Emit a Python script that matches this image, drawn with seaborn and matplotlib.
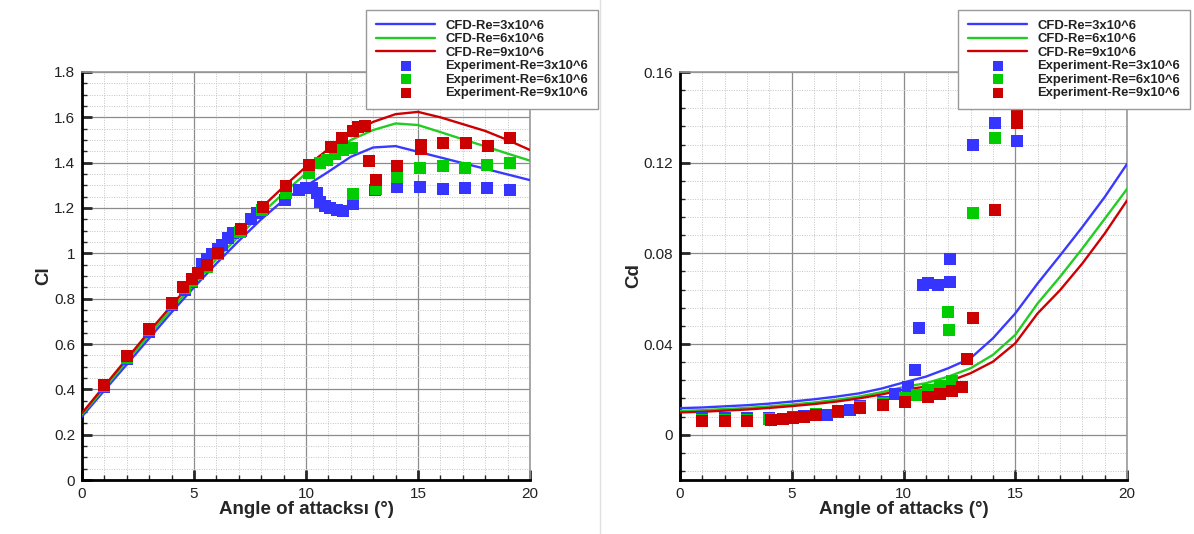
import matplotlib
matplotlib.use('Agg')
import matplotlib.pyplot as plt
import seaborn as sns
import pandas as pd
from matplotlib.ticker import MultipleLocator, FuncFormatter

# ---------------- data ----------------
aoa_cfd = list(range(21))
cl_cfd_re3 = [0.28, 0.395, 0.51, 0.625, 0.74, 0.85, 0.955, 1.055, 1.15, 1.235, 1.297,
              1.36, 1.426, 1.467, 1.473, 1.448, 1.423, 1.398, 1.373, 1.348, 1.323]
cl_cfd_re6 = [0.29, 0.405, 0.525, 0.64, 0.755, 0.865, 0.975, 1.075, 1.175, 1.265, 1.353,
              1.43, 1.5, 1.544, 1.573, 1.566, 1.535, 1.503, 1.472, 1.44, 1.409]
cl_cfd_re9 = [0.295, 0.415, 0.535, 0.655, 0.77, 0.885, 0.995, 1.10, 1.20, 1.294, 1.382,
              1.46, 1.53, 1.58, 1.614, 1.624, 1.60, 1.57, 1.54, 1.50, 1.456]

aoa_cl_exp_re3 = [1, 2, 3, 4, 4.6, 4.9, 5.2, 5.35, 5.6, 5.8, 6.05, 6.25, 6.5, 6.75, 7.1, 7.55,
                  7.8, 8.1, 9.05, 9.7, 10.0, 10.25, 10.48, 10.63, 10.85, 11.07, 11.37, 11.63,
                  12.1, 13.1, 14.05, 15.1, 16.1, 17.1, 18.1, 19.1]
cl_exp_re3 = [0.41, 0.535, 0.655, 0.77, 0.84, 0.875, 0.91, 0.955, 0.975, 0.995, 1.02, 1.037,
              1.066, 1.09, 1.1, 1.15, 1.176, 1.195, 1.235, 1.279, 1.29, 1.29, 1.265, 1.228,
              1.209, 1.198, 1.19, 1.188, 1.217, 1.279, 1.294, 1.294, 1.282, 1.29, 1.287, 1.279]
aoa_cl_exp_re6 = [1, 2, 3, 4, 4.6, 4.9, 5.2, 5.6, 6.05, 7.05, 8.05, 9.1, 10.13, 10.63, 10.92,
                  11.29, 11.67, 12.04, 12.08, 13.13, 14.05, 15.1, 16.1, 17.1, 18.1, 19.1]
cl_exp_re6 = [0.415, 0.54, 0.66, 0.775, 0.845, 0.878, 0.908, 0.94, 0.995, 1.095, 1.19, 1.265,
              1.356, 1.397, 1.411, 1.437, 1.456, 1.463, 1.26, 1.282, 1.338, 1.375, 1.385,
              1.378, 1.39, 1.4]
aoa_cl_exp_re9 = [1, 2, 3, 4, 4.52, 4.9, 5.19, 5.6, 6.09, 7.08, 8.1, 9.1, 10.13, 11.12, 11.59,
                  12.11, 12.34, 12.63, 12.81, 13.13, 14.05, 15.12, 15.12, 16.13, 17.13, 18.14,
                  19.1]
cl_exp_re9 = [0.42, 0.545, 0.665, 0.78, 0.853, 0.885, 0.915, 0.948, 1.003, 1.106, 1.203, 1.297,
              1.39, 1.47, 1.507, 1.541, 1.556, 1.56, 1.409, 1.323, 1.385, 1.48, 1.462, 1.488,
              1.488, 1.473, 1.507]

cd_cfd_re3 = [0.0117, 0.012, 0.0125, 0.013, 0.0137, 0.0146, 0.0156, 0.0168, 0.0182, 0.0203,
              0.023, 0.0256, 0.0293, 0.0337, 0.0425, 0.0535, 0.0667, 0.079, 0.0916, 0.1048,
              0.1194]
cd_cfd_re6 = [0.0105, 0.0108, 0.0113, 0.0118, 0.0125, 0.0133, 0.0142, 0.0154, 0.0168, 0.0187,
              0.021, 0.0227, 0.0256, 0.0293, 0.0352, 0.044, 0.0579, 0.0696, 0.0821, 0.0952,
              0.1084]
cd_cfd_re9 = [0.0098, 0.0101, 0.0106, 0.0111, 0.0118, 0.0126, 0.0135, 0.0146, 0.016, 0.0177,
              0.0198, 0.0212, 0.0234, 0.0271, 0.0322, 0.0403, 0.0535, 0.0637, 0.0755, 0.0887,
              0.1033]

aoa_cd_exp_re3 = [1, 2, 3, 4, 5.07, 5.56, 6.08, 6.56, 7.08, 7.6, 8.05, 9.1, 9.62, 10.2, 10.5,
                  10.71, 10.86, 11.1, 11.56, 12.08, 12.08, 13.1, 14.09, 15.1]
cd_exp_re3 = [0.0072, 0.0072, 0.0072, 0.0075, 0.0078, 0.0082, 0.0088, 0.0088, 0.0100, 0.011,
              0.0125, 0.0145, 0.018, 0.0212, 0.0286, 0.0469, 0.0659, 0.0667, 0.0659, 0.0674,
              0.0774, 0.128, 0.1377, 0.1297]
aoa_cd_exp_re6 = [1, 2, 3, 4, 5.07, 5.56, 6.08, 7.08, 8.05, 9.1, 10.07, 10.59, 11.1, 11.63,
                  12.15, 12.0, 12.05, 13.1, 14.09, 14.09]
cd_exp_re6 = [0.0066, 0.0066, 0.0066, 0.0069, 0.0075, 0.008, 0.009, 0.0105, 0.012, 0.0138,
              0.016, 0.0176, 0.0195, 0.0215, 0.0235, 0.0542, 0.0462, 0.0977, 0.131, 0.147]
aoa_cd_exp_re9 = [1, 2, 3, 4.07, 4.62, 5.07, 5.56, 6.08, 7.08, 8.05, 9.1, 10.07, 11.1, 11.63,
                  12.15, 12.63, 12.83, 13.1, 14.09, 15.1, 15.1]
cd_exp_re9 = [0.0062, 0.0062, 0.0062, 0.0066, 0.0069, 0.0073, 0.0078, 0.0088, 0.0103, 0.0117,
              0.0132, 0.0146, 0.0166, 0.0181, 0.0193, 0.0212, 0.0335, 0.0513, 0.0992, 0.1407,
              0.1377]

cfd_labels = ['CFD-Re=3x10^6', 'CFD-Re=6x10^6', 'CFD-Re=9x10^6']
exp_labels = ['Experiment-Re=3x10^6', 'Experiment-Re=6x10^6', 'Experiment-Re=9x10^6']
line_colors = ['#3a3aff', '#22cc22', '#cc0000']
mark_colors = ['#3535ff', '#00cc00', '#cc0000']

# ---------------- style ----------------
sns.set_style('white')
plt.rcParams['font.family'] = ['Liberation Sans', 'DejaVu Sans']

fig = plt.figure(figsize=(11.94, 5.34), dpi=100)
ax1 = fig.add_axes([82 / 1194, 54 / 534, 448 / 1194, 408 / 534])
ax2 = fig.add_axes([680 / 1194, 54 / 534, 447 / 1194, 408 / 534])

# faint panel separator
fig.add_artist(plt.Line2D([600 / 1194, 600 / 1194], [0, 1], color='#e0e0e0', lw=1,
                          transform=fig.transFigure))


def draw(ax, cfd, exp_x, exp_y):
    for y, lab, c in zip(cfd, cfd_labels, line_colors):
        sns.lineplot(x=aoa_cfd, y=y, color=c, lw=1.7, ax=ax, label=lab, zorder=3)
    for xx, yy, lab, c in zip(exp_x, exp_y, exp_labels, mark_colors):
        sns.scatterplot(x=xx, y=yy, marker='s', s=66, color=c, linewidth=0, ax=ax,
                        label=lab, zorder=4)


draw(ax1, [cl_cfd_re3, cl_cfd_re6, cl_cfd_re9],
     [aoa_cl_exp_re3, aoa_cl_exp_re6, aoa_cl_exp_re9],
     [cl_exp_re3, cl_exp_re6, cl_exp_re9])
draw(ax2, [cd_cfd_re3, cd_cfd_re6, cd_cfd_re9],
     [aoa_cd_exp_re3, aoa_cd_exp_re6, aoa_cd_exp_re9],
     [cd_exp_re3, cd_exp_re6, cd_exp_re9])


def style(ax, ylim, ymaj, ymin, ylabel, xlabel):
    ax.set_xlim(0, 20)
    ax.set_ylim(*ylim)
    ax.xaxis.set_major_locator(MultipleLocator(5))
    ax.xaxis.set_minor_locator(MultipleLocator(1))
    ax.yaxis.set_major_locator(MultipleLocator(ymaj))
    ax.yaxis.set_minor_locator(MultipleLocator(ymin))
    fmt = FuncFormatter(lambda v, p: ('%g' % round(v, 6)) if v >= -1e-9 else '')
    ax.yaxis.set_major_formatter(fmt)
    ax.xaxis.set_major_formatter(FuncFormatter(lambda v, p: '%g' % v))
    ax.grid(which='major', color='#8c8c8c', lw=0.9, ls='-')
    ax.grid(which='minor', color='#c4c4c4', lw=0.7, ls=(0, (1, 1.5)))
    ax.set_axisbelow(True)
    ax.tick_params(which='major', direction='in', length=7, width=2, labelsize=11,
                   labelcolor='#222222', pad=5, left=True, bottom=True, top=False, right=False)
    ax.tick_params(which='minor', direction='in', length=3.5, width=1, left=True,
                   bottom=True, top=False, right=False)
    for s in ['left', 'bottom']:
        ax.spines[s].set_color('black')
        ax.spines[s].set_linewidth(2)
    for s in ['top', 'right']:
        ax.spines[s].set_color('#999999')
        ax.spines[s].set_linewidth(1.2)
    ax.set_xlabel(xlabel, fontsize=13.5, fontweight='bold', labelpad=0)
    ax.set_ylabel(ylabel, fontsize=13.5, fontweight='bold', labelpad=1)


style(ax1, (0, 1.8), 0.2, 0.05, 'Cl', 'Angle of attacksı (°)')
style(ax2, (-0.02, 0.16), 0.04, 0.008, 'Cd', 'Angle of attacks (°)')
ax2.set_yticks([0, 0.04, 0.08, 0.12, 0.16])


def legend(ax, anchor):
    h, l = ax.get_legend_handles_labels()
    leg = ax.legend(h, l, loc='upper right', bbox_to_anchor=anchor,
                    bbox_transform=fig.transFigure, prop={'weight': 'bold', 'size': 9.4},
                    frameon=True, fancybox=False, framealpha=1, edgecolor='#999999',
                    handlelength=4.5, handletextpad=0.8, labelspacing=0.1,
                    borderpad=0.75, borderaxespad=0, scatterpoints=1, markerscale=0.95)
    leg.get_frame().set_linewidth(1)
    leg.set_zorder(10)
    for t in leg.get_texts():
        t.set_color('#222222')


legend(ax1, (598 / 1194, 1 - 10 / 534))
legend(ax2, (1190 / 1194, 1 - 10 / 534))

fig.savefig('out.png', dpi=100)
